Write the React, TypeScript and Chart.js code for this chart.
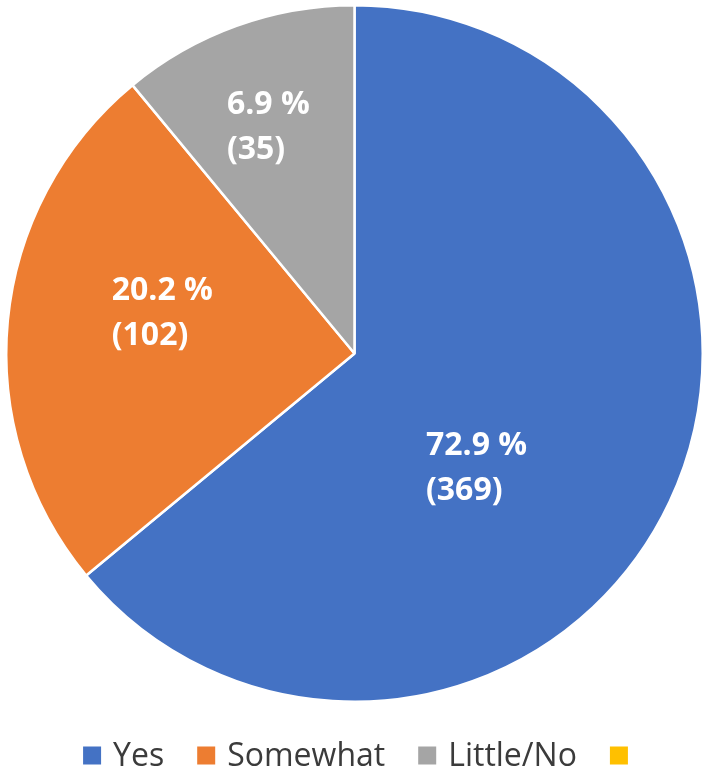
import React, { useEffect, useRef } from "react";
import { Chart, registerables } from "chart.js";

Chart.register(...registerables);

// Categories (legend entries); the last series has no name in the source
const categories = ["Yes", "Somewhat", "Little/No", ""];
// Slice sizes as drawn in the picture (share of the circle, %)
const sliceShares = [64.0, 25.0, 11.0, 0];
// Data label texts as printed on the slices
const labelPercents = ["72.9 %", "20.2 %", "6.9 %", ""];
const labelCounts = ["(369)", "(102)", "(35)", ""];
const colors = ["#4472C4", "#ED7D31", "#A5A5A5", "#FFC000"];

// label placement: angle shift (deg) from slice middle, distance as fraction of radius
const labelAngleShift = [17.9, 6.5, -1.0, 0];
const labelRadiusFrac = [0.48, 0.564, 0.697, 0];

const labelPlugin = {
  id: "sliceLabels",
  afterDatasetsDraw(chart: any) {
    const ctx = chart.ctx;
    const meta = chart.getDatasetMeta(0);
    ctx.save();
    ctx.font = "bold 32px 'Open Sans'";
    ctx.fillStyle = "#ffffff";
    ctx.textBaseline = "middle";
    ctx.textAlign = "left";
    meta.data.forEach((arc: any, i: number) => {
      if (!labelPercents[i]) return;
      const { x, y, startAngle, endAngle, outerRadius } = arc.getProps(
        ["x", "y", "startAngle", "endAngle", "outerRadius"],
        true
      );
      const mid = (startAngle + endAngle) / 2 + (labelAngleShift[i] * Math.PI) / 180;
      const d = outerRadius * labelRadiusFrac[i];
      const cx = x + Math.cos(mid) * d;
      const cy = y + Math.sin(mid) * d;
      const w = Math.max(
        ctx.measureText(labelPercents[i]).width,
        ctx.measureText(labelCounts[i]).width
      );
      const left = cx - w / 2;
      ctx.fillText(labelPercents[i], left, cy - 22);
      ctx.fillText(labelCounts[i], left, cy + 23);
    });
    ctx.restore();
  },
};

const legendPlugin = {
  id: "bottomLegend",
  afterDraw(chart: any) {
    const ctx = chart.ctx;
    ctx.save();
    ctx.font = "32px 'Open Sans'";
    ctx.textBaseline = "middle";
    ctx.textAlign = "left";
    const box = 18;
    const gapText = 12;
    const gapItem = 33;
    const widths = categories.map((c) =>
      c ? box + gapText + ctx.measureText(c).width : box
    );
    const total = widths.reduce((a, b) => a + b, 0) + gapItem * (categories.length - 1);
    let x = (chart.width - total) / 2 + 1;
    const yc = 755.5;
    categories.forEach((c, i) => {
      ctx.fillStyle = colors[i];
      ctx.fillRect(x, yc - box / 2, box, box);
      if (c) {
        ctx.fillStyle = "#3b3b3b";
        ctx.fillText(c, x + box + gapText, yc + 1);
      }
      x += widths[i] + gapItem;
    });
    ctx.restore();
  },
};

export default function App() {
  const ref = useRef<HTMLCanvasElement>(null);
  useEffect(() => {
    document.body.style.margin = "0";
    const chart = new Chart(ref.current as HTMLCanvasElement, {
      type: "pie",
      data: {
        labels: categories,
        datasets: [
          {
            data: sliceShares,
            backgroundColor: colors,
            borderColor: "#ffffff",
            borderWidth: 2.5,
          },
        ],
      },
      options: {
        animation: false,
        responsive: false,
        maintainAspectRatio: false,
        layout: { padding: { top: 3, left: 5, right: 5, bottom: 74 } },
        plugins: {
          legend: { display: false },
          tooltip: { enabled: false },
        },
      },
      plugins: [labelPlugin, legendPlugin],
    });
    return () => chart.destroy();
  }, []);
  return (
    <div style={{ position: "absolute", left: 0, top: 0, width: 709, height: 778, background: "#fff" }}>
      <canvas ref={ref} width={709} height={778} />
    </div>
  );
}
